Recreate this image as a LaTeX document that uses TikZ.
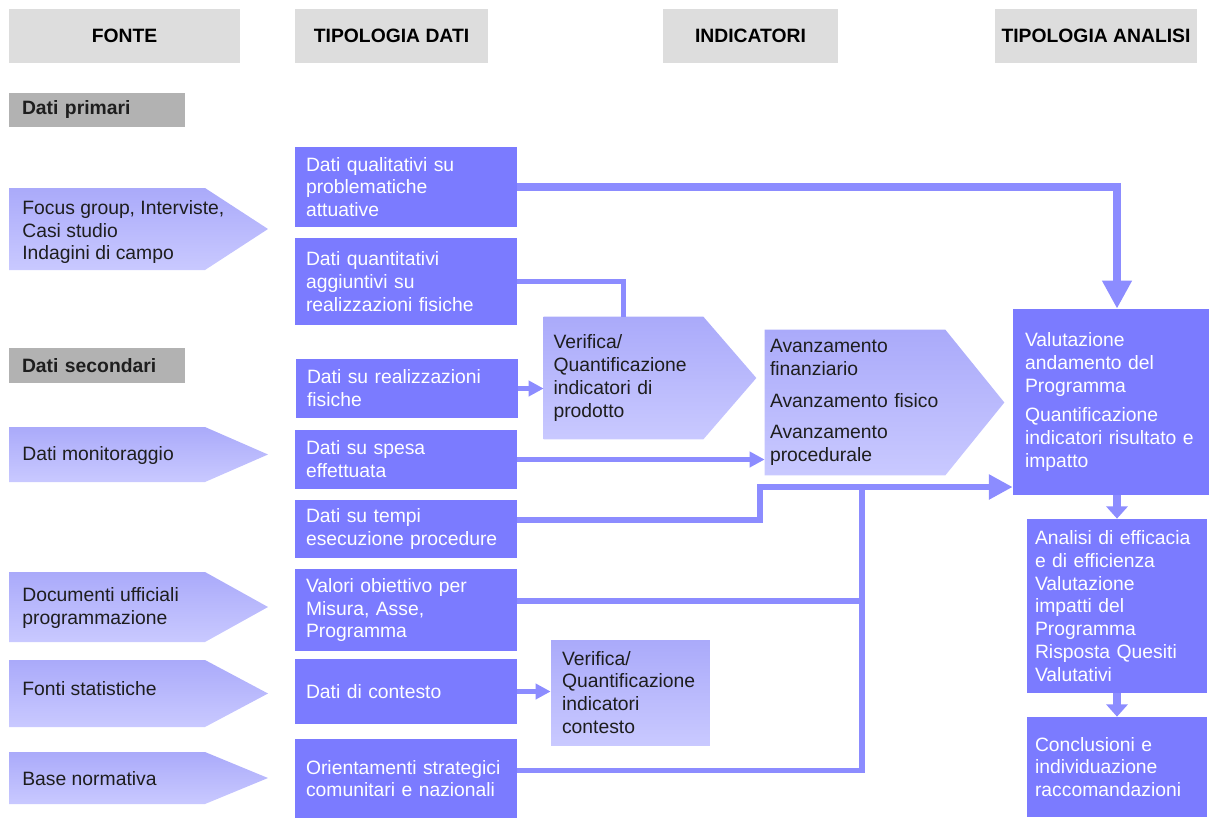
\documentclass[tikz,border=0pt]{standalone}
\usepackage{fontspec}
\setmainfont{Liberation Sans}
\usetikzlibrary{positioning}
\usetikzlibrary{arrows.meta,calc,backgrounds}
\definecolor{boxblue}{RGB}{123,123,255}
\definecolor{lineblue}{RGB}{140,140,255}
\definecolor{pentop}{RGB}{170,170,250}
\definecolor{penbot}{RGB}{201,201,255}
\definecolor{headgrey}{RGB}{221,221,221}
\definecolor{secgrey}{RGB}{178,178,178}
\definecolor{ink}{RGB}{30,30,30}
\newcommand{\diagfont}{\fontsize{11}{13}\selectfont}
\tikzstyle{header}=[rectangle,fill=headgrey,font=\diagfont\bfseries,minimum height=1.08cm,inner sep=0pt]
\tikzstyle{section}=[rectangle,fill=secgrey,font=\diagfont\bfseries,text=ink,align=left,minimum height=0.7cm,minimum width=3.52cm,text width=3.0cm,inner xsep=0.26cm,inner ysep=0pt]
\tikzstyle{databox}=[rectangle,fill=boxblue,text=white,align=left,minimum width=4.44cm,text width=4.0cm,inner xsep=0.22cm,inner ysep=0pt]
\tikzstyle{source}=[text=ink,align=left,inner xsep=0.26cm,inner ysep=0pt]
\tikzstyle{indic}=[rectangle,text=ink,align=left,inner ysep=0pt]
\tikzstyle{result}=[rectangle,fill=boxblue,text=white,align=left,inner ysep=0pt]
\tikzstyle{arrowshape}=[top color=pentop,bottom color=penbot,draw=none]
\tikzstyle{link}=[draw=lineblue,line width=3pt]
\tikzstyle{flow}=[link,-{Triangle[width=8.5pt,length=8.5pt]}]
\tikzstyle{feedflow}=[draw=lineblue,line width=3.4pt,-{Triangle[width=13.6pt,length=13.6pt]}]
\tikzstyle{bigflow}=[draw=lineblue,line width=4.5pt,-{Triangle[width=16pt,length=16pt]}]
\tikzstyle{down}=[draw=lineblue,line width=4.5pt,-{Triangle[width=12pt,length=7pt]}]

\begin{document}
\begin{tikzpicture}[x=0.02cm, y=-0.02cm, font=\diagfont]
    \useasboundingbox (0,0) rectangle (1209,818);

    % Column headers
    \foreach \pos/\name/\w/\txt in {{(124.5,36)/hfonte/4.62/FONTE}, {(391.5,36)/htipo/3.86/TIPOLOGIA DATI},
                                   {(750.5,36)/hindic/3.5/INDICATORI}, {(1096,36)/hanalisi/4.04/TIPOLOGIA ANALISI}}
        \node[header, minimum width=\w cm] (\name) at \pos {\txt};

    \node[section] (primari) at (97,110) {Dati primari};
    \node[section] (secondari) at (97,365.5) {Dati secondari};

    % Sources (arrow shaped), \dy moves the text off the middle
    \foreach \ya/\yb/\dy/\name/\txt in {{188/270/3/focus/{Focus group, Interviste,\\Casi studio\\Indagini di campo}},
                                   {427/482/1/monit/{Dati monitoraggio}},
                                   {572/642/1/docum/{Documenti ufficiali\\programmazione}},
                                   {660/727/-5/fonti/{Fonti statistiche}},
                                   {752/804/1/base/{Base normativa}}}
    {
        \path[arrowshape] (9,\ya) -- (205,\ya) -- (268,{(\ya+\yb)/2}) -- (205,\yb) -- (9,\yb) -- cycle;
        \node[source, anchor=west] (\name) at (9,{(\ya+\yb)/2+\dy}) {\txt};
    }

    % Data types
    \foreach \pos/\name/\h/\txt in {{(406,187)/qual/1.62/{Dati qualitativi su\\problematiche\\attuative}},
                                   {(406,281.5)/quant/1.74/{Dati quantitativi\\aggiuntivi su\\realizzazioni fisiche}},
                                   {(407,388.5)/real/1.18/{Dati su realizzazioni\\fisiche}},
                                   {(406,459.5)/spesa/1.18/{Dati su spesa\\effettuata}},
                                   {(406,529)/tempi/1.16/{Dati su tempi\\esecuzione procedure}},
                                   {(406,610)/valori/1.64/{Valori obiettivo per\\Misura, Asse,\\Programma}},
                                   {(406,691.5)/contesto/1.3/{Dati di contesto}},
                                   {(406,778.5)/orient/1.58/{Orientamenti strategici\\comunitari e nazionali}}}
        \node[databox, minimum height=\h cm] (\name) at \pos {\txt};

    % Indicators
    \node[indic, minimum width=3.18cm, minimum height=2.44cm, text width=2.8cm, inner xsep=0.19cm]
        (verprod) at (623.5,378) {Verifica/\\Quantificazione\\indicatori di\\prodotto};
    \node[indic, minimum width=3.6cm, minimum height=2.9cm, text width=3.4cm, inner xsep=0.1cm]
        (avanz) at (855,402.5) {Avanzamento\\finanziario\\[5pt]Avanzamento fisico\\[5pt]Avanzamento\\procedurale};
    \node[indic, top color=pentop, bottom color=penbot, minimum width=3.18cm, minimum height=2.1cm, text width=2.74cm, inner xsep=0.22cm]
        (verctx) at (630.5,692.5) {Verifica/\\Quantificazione\\indicatori\\contesto};

    \begin{scope}[on background layer]
        \path[arrowshape] (verprod.north west) -- (verprod.north east) -- ($(verprod.east)+(53,0)$)
            -- (verprod.south east) -- (verprod.south west) -- cycle;
        \path[arrowshape] (avanz.north west) -- (avanz.north east) -- ($(avanz.east)+(59,0)$)
            -- (avanz.south east) -- (avanz.south west) -- cycle;
    \end{scope}

    % Analysis
    \node[result, minimum width=3.92cm, minimum height=3.72cm, text width=3.44cm, inner xsep=0.24cm]
        (valut) at (1111,402) {Valutazione\\andamento del\\Programma\\[4pt]Quantificazione\\indicatori risultato e\\impatto};
    \node[result, minimum width=3.6cm, minimum height=3.48cm, text width=3.28cm, inner xsep=0.16cm]
        (analisi) at (1117,606) {Analisi di efficacia\\e di efficienza\\Valutazione\\impatti del\\Programma\\Risposta Quesiti\\Valutativi};
    \node[result, minimum width=3.6cm, minimum height=2.0cm, text width=3.28cm, inner xsep=0.16cm]
        (concl) at (1117,767) {Conclusioni e\\individuazione\\raccomandazioni};

    % Connectors
    \coordinate (bend) at (760,487);
    \coordinate (bus) at (862,487);
    \draw[bigflow] (qual.east) -| (valut.north -| analisi.north);
    \draw[link] (quant.east) -| (verprod.north);
    \draw[flow] (real.east) -- (real.east -| verprod.west);
    \draw[flow] (spesa.east) -- (spesa.east -| avanz.west);
    \draw[link] ([yshift=0.18cm]valori.east) -| (bus);
    \draw[link] ([yshift=0.16cm]orient.east) -| (bus);
    \draw[feedflow] ([yshift=0.18cm]tempi.east) -| (bend) -- (bend -| valut.west);
    \draw[flow] (contesto.east) -- (contesto.east -| verctx.west);
    \draw[down] (analisi.north |- valut.south) -- (analisi.north);
    \draw[down] (concl.north |- analisi.south) -- (concl.north);

\end{tikzpicture}
\end{document}
